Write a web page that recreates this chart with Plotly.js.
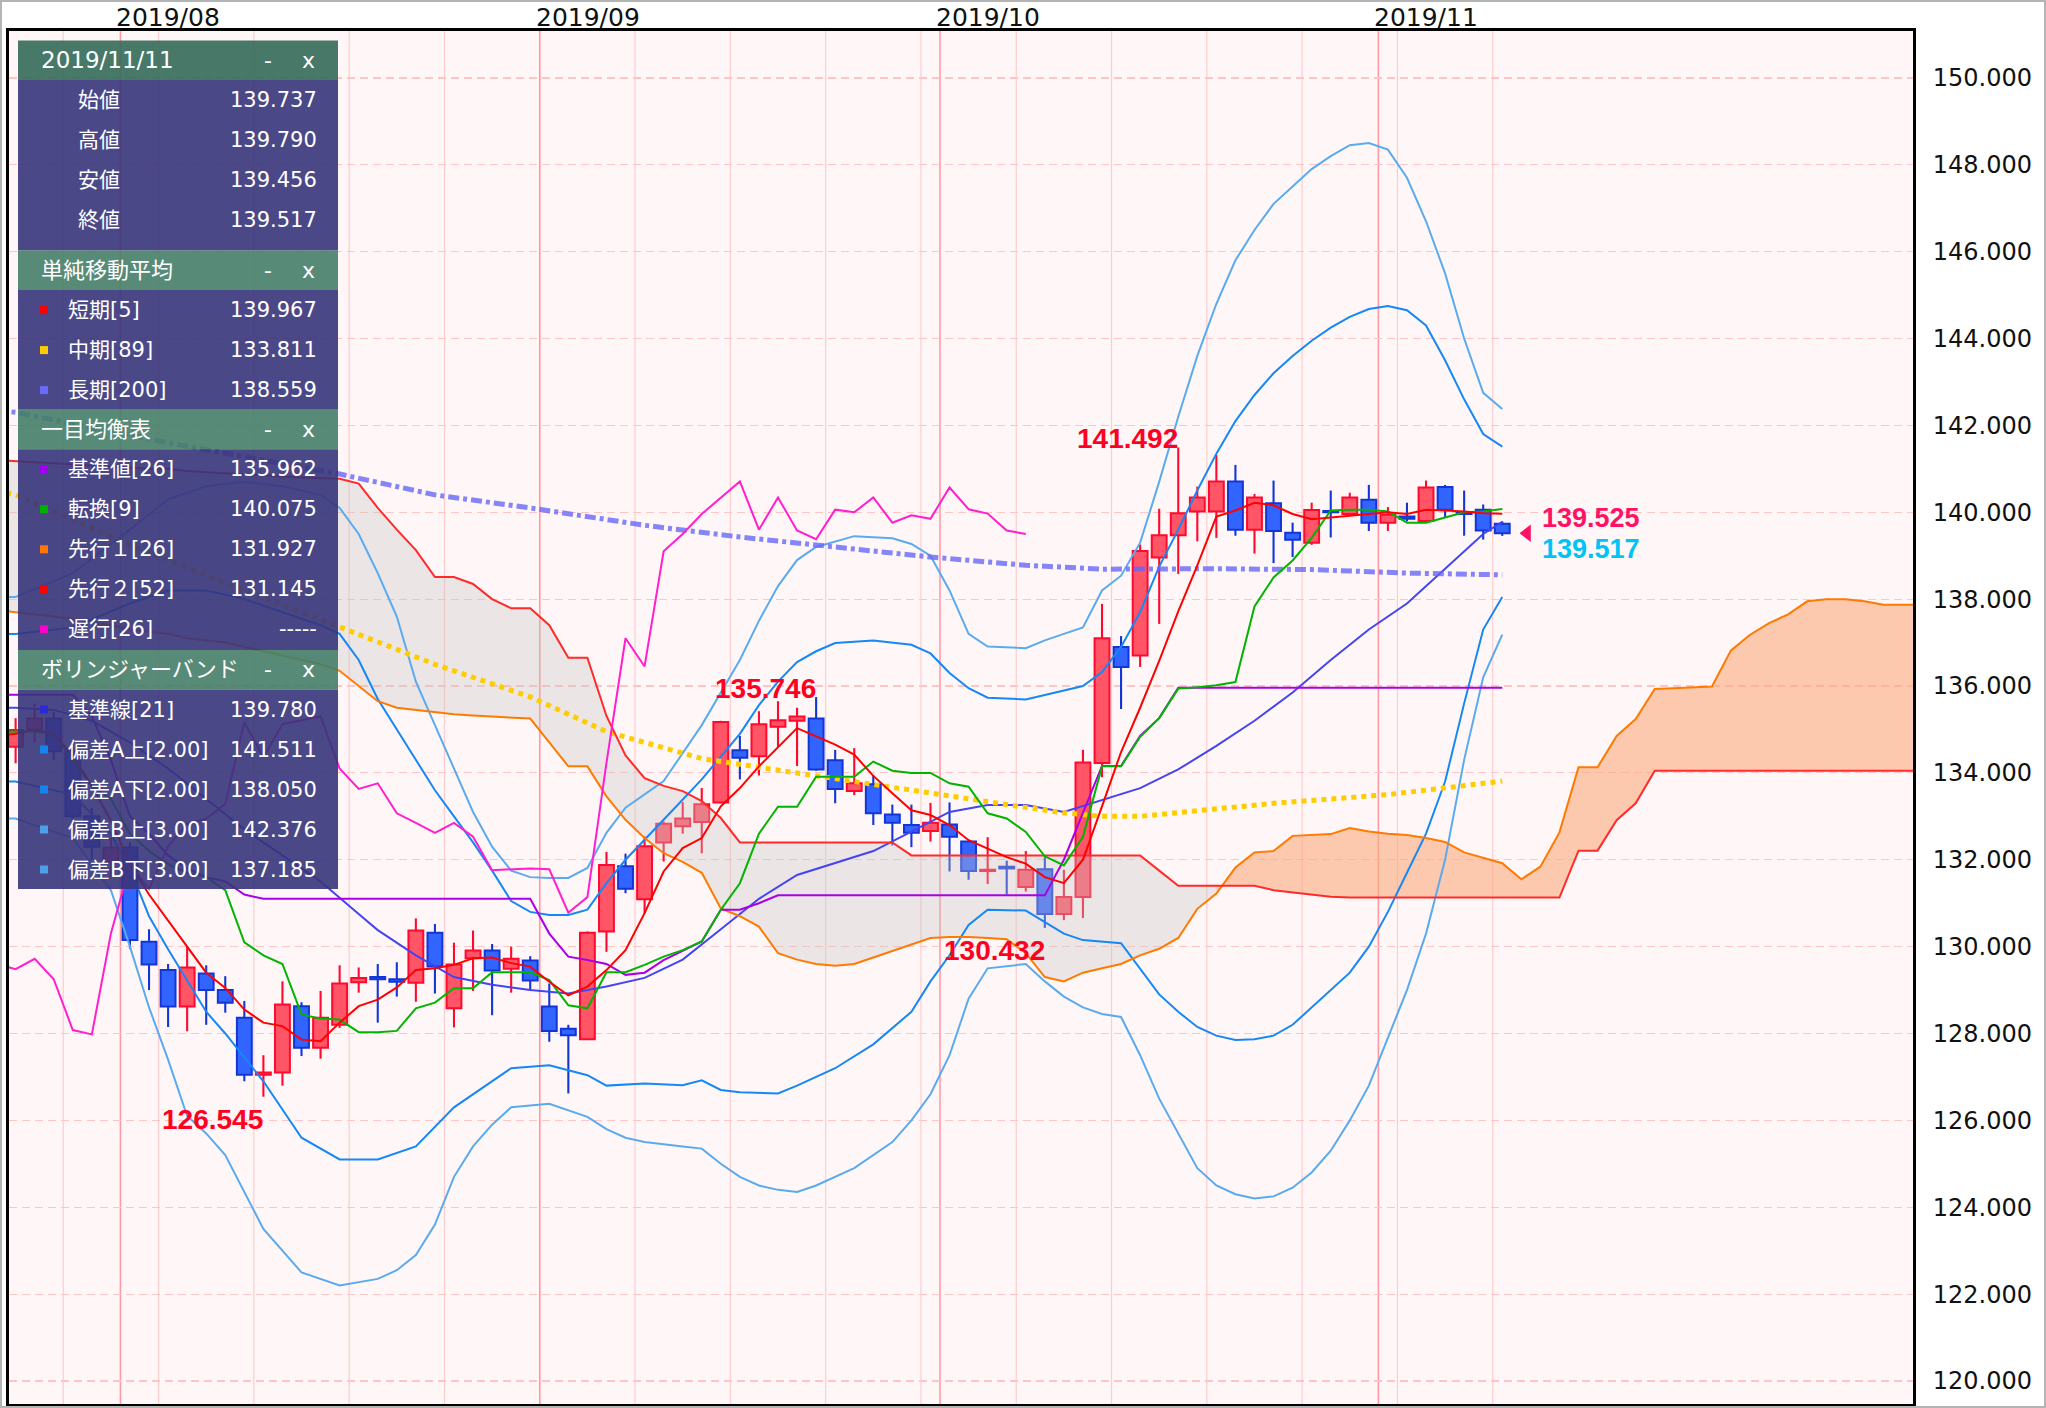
<!DOCTYPE html>
<html><head><meta charset="utf-8">
<script src="https://cdn.plot.ly/plotly-3.0.1.min.js"></script>
<style>html,body{margin:0;padding:0;background:#fff;}#chart{width:2046px;height:1408px;}</style>
</head><body><div id="chart"></div>
<script>
// ---------- DATA (x = trading-day index, 0 = 2019/07/22 Mon) ----------
const firstCandle = 2;
const openP  = [134.60,135.00,135.25,134.50,133.00,131.95,132.28,130.11,129.46,128.62,129.38,129.00,128.36,127.05,127.10,128.63,127.67,128.20,129.18,129.30,129.25,129.17,130.32,128.58,129.73,129.91,129.49,129.68,128.62,128.11,127.87,130.35,131.85,131.09,132.40,132.77,132.87,133.32,134.52,134.38,135.06,135.20,135.25,134.29,133.58,133.74,133.04,132.80,132.66,132.81,132.42,131.74,131.84,131.37,131.78,130.75,131.14,134.23,136.90,136.70,138.96,139.47,140.02,140.02,140.71,139.60,140.21,139.53,139.30,140.03,139.96,140.29,139.76,139.90,139.80,140.58,140.00,140.06,139.737];
const highP  = [135.26,135.60,135.40,134.60,133.20,132.50,132.40,130.40,129.60,130.00,129.57,129.32,128.75,127.50,129.20,128.72,128.98,129.57,129.52,129.60,129.64,130.65,130.52,130.09,130.37,130.06,130.00,129.78,129.15,128.20,130.35,132.18,132.14,132.54,132.88,133.33,133.65,135.20,134.85,135.42,135.65,135.50,135.746,134.53,134.57,133.95,133.27,133.27,133.31,133.32,132.45,132.52,131.98,132.20,132.06,131.77,134.53,137.89,137.15,139.26,140.08,141.492,140.59,141.32,141.09,140.42,140.73,139.76,140.22,140.50,140.45,140.63,140.12,140.22,140.73,140.63,140.50,140.18,139.790];
const lowP   = [134.22,134.70,134.30,132.80,132.00,131.60,129.95,129.00,128.15,128.05,128.20,128.48,126.90,126.545,126.80,127.48,127.42,128.13,128.94,128.25,128.85,128.73,128.92,128.14,128.98,128.42,128.94,129.00,127.81,126.62,127.85,129.88,131.23,130.77,131.96,132.60,132.15,133.30,133.85,133.94,134.60,134.16,134.05,133.30,133.49,132.80,132.33,132.29,132.42,131.73,131.54,131.44,131.20,131.27,130.432,130.61,130.66,133.90,135.47,136.44,137.43,138.58,139.33,139.41,139.46,139.05,138.83,138.97,139.25,139.42,139.92,139.57,139.57,139.79,139.76,139.88,139.46,139.37,139.456];
const closeP = [134.99,135.25,134.50,133.00,132.30,132.28,130.15,129.59,128.62,129.52,129.00,128.71,127.05,127.10,128.67,127.67,128.36,129.15,129.28,129.25,129.19,130.37,129.54,129.59,129.91,129.45,129.72,129.22,128.06,127.96,130.32,131.88,131.33,132.31,132.83,132.95,133.28,135.17,134.35,135.12,135.21,135.30,134.08,133.63,133.76,133.07,132.85,132.62,132.85,132.53,131.74,131.77,131.80,131.77,130.75,131.14,134.24,137.10,136.44,139.11,139.47,139.98,140.34,140.71,139.60,140.34,139.57,139.37,140.05,140.00,140.34,139.76,139.94,139.85,140.57,140.06,139.96,139.58,139.517];

// SMA(5) daily from index 1
const sma5Start = 1;
const sma5 = [134.85,134.9,135.0,134.9,134.4,133.7,132.9,131.9,131.2,130.6,130.0,129.4,129.05,128.55,128.25,128.17,127.86,127.82,128.25,128.63,128.78,129.06,129.46,129.5,129.58,129.73,129.75,129.62,129.54,129.19,128.88,129.08,129.46,129.92,130.77,131.73,132.27,132.5,133.23,133.65,134.15,134.6,135.03,134.84,134.65,134.42,133.93,133.53,133.14,133.03,132.8,132.45,132.25,132.06,131.91,131.6,131.46,132.0,133.23,134.48,135.5,136.58,137.72,138.78,139.9,140.04,140.22,140.16,139.96,139.84,139.88,139.92,139.96,140.0,139.96,140.06,140.04,140.02,139.98,139.967];
// SMA(89), SMA(200) sampled
const sma89Idx = [1,2,8,14,19,24,29,33,38,42,44,48,51,54,57,59,61,63,68,74,80];
const sma89Val = [140.5,140.4,139.25,138.2,137.36,136.5,135.75,134.95,134.33,134.06,133.93,133.68,133.45,133.27,133.08,133.0,133.0,133.08,133.3,133.5,133.81];
const sma200Idx = [1,2,10,19,24,29,35,40,45,50,55,59,65,70,75,80];
const sma200Val = [142.35,142.3,141.6,140.88,140.4,140.1,139.7,139.43,139.2,138.97,138.78,138.69,138.7,138.68,138.6,138.56];

// Ichimoku (daily from index 1)
const tenkan = [134.95,134.95,134.95,134.9,134.3,133.7,133.4,132.6,132.2,131.9,131.7,131.6,131.3,130.1,129.8,129.6,128.44,128.34,128.32,128.03,128.03,128.06,128.58,128.71,129.04,129.04,129.41,129.41,129.41,129.23,128.65,128.58,129.41,129.41,129.58,129.77,129.92,130.12,130.85,131.46,132.6,133.22,133.22,133.91,133.91,133.91,134.26,134.05,134.0,134.0,133.76,133.68,133.07,132.95,132.64,132.08,131.87,132.53,134.15,134.15,134.83,135.26,135.94,135.97,136.02,136.09,137.83,138.5,138.89,139.41,140.04,140.06,140.06,140.02,139.76,139.76,139.88,140.0,140.02,140.075];
const kijun = [135.8,135.8,135.8,135.8,135.8,135.3,134.3,133.0,132.6,132.1,131.8,131.6,131.5,131.2,131.1,131.1,131.1,131.1,131.1,131.1,131.1,131.1,131.1,131.1,131.1,131.1,131.1,131.1,131.1,130.3,129.77,129.69,129.6,129.35,129.4,129.69,129.9,130.12,130.85,130.85,131.0,131.18,131.18,131.18,131.18,131.18,131.18,131.18,131.18,131.18,131.18,131.18,131.18,131.18,131.18,131.18,132.0,133.1,134.16,134.16,134.85,135.26,135.962,135.962,135.962,135.962,135.962,135.962,135.962,135.962,135.962,135.962,135.962,135.962,135.962,135.962,135.962,135.962,135.962,135.962];
const spanA = [137.75,137.7,137.65,137.6,137.55,137.45,137.4,137.3,137.25,137.2,137.1,137.05,137.0,136.9,136.8,136.7,136.6,136.5,136.35,136.0,135.65,135.5,135.45,135.4,135.35,135.32,135.3,135.28,135.25,134.7,134.15,134.15,133.46,132.92,132.5,132.15,131.95,131.7,130.88,130.7,130.46,129.85,129.7,129.6,129.56,129.6,129.75,129.9,130.05,130.2,130.22,130.22,130.2,130.17,129.85,129.3,129.2,129.4,129.5,129.6,129.8,129.95,130.2,130.87,131.22,131.82,132.17,132.2,132.55,132.57,132.59,132.73,132.65,132.6,132.57,132.5,132.41,132.17,132.05,131.92,131.55,131.84,132.63,134.13,134.13,134.85,135.24,135.93,135.95,135.97,135.99,136.82,137.18,137.45,137.65,137.95,138.0,138.0,137.95,137.87,137.87,137.87];
const spanB = [141.2,141.17,141.15,141.13,141.1,141.08,141.05,141.03,141.0,141.0,140.95,140.92,140.9,140.87,140.85,140.82,140.8,140.78,140.77,140.66,140.1,139.6,139.13,138.51,138.51,138.35,138.0,137.79,137.79,137.4,136.65,136.65,135.31,134.4,133.88,133.7,133.58,133.35,132.96,132.4,132.4,132.4,132.4,132.4,132.4,132.4,132.4,132.4,132.1,132.1,132.1,132.1,132.1,132.1,132.1,132.1,132.1,132.1,132.1,132.1,132.1,131.75,131.4,131.4,131.4,131.4,131.4,131.3,131.25,131.2,131.15,131.13,131.13,131.13,131.13,131.13,131.13,131.13,131.13,131.13,131.13,131.13,131.13,132.21,132.21,132.91,133.3,134.05,134.05,134.05,134.05,134.05,134.05,134.05,134.05,134.05,134.05,134.05,134.05,134.05,134.05,134.05,134.05];
const chikou = [129.6,129.48,129.72,129.25,128.08,127.98,130.3,131.88,131.33,132.31,132.83,132.95,133.28,135.17,134.35,135.12,135.21,135.3,134.1,133.63,133.76,133.07,132.85,132.62,132.85,132.53,131.76,131.78,131.8,131.78,130.78,131.14,134.23,137.1,136.45,139.1,139.5,139.96,140.33,140.71,139.6,140.34,139.58,139.38,140.06,140.0,140.34,139.76,139.93,139.85,140.57,140.07,139.97,139.58,139.5];
const cloudSwitch = 65; // index where cloud turns from bearish to bullish

// Bollinger bands (sampled)
const bbMidIdx = [1,2,4,6,8,10,12,14,16,18,20,21,23,25,27,29,31,33,35,37,39,41,43,45,47,49,51,53,55,57,59,61,63,65,67,69,71,73,75,77,79,80];
const bbMidVal = [135.5,135.5,135.45,135.2,134.7,134.1,133.4,132.7,132.1,131.5,130.75,130.38,129.8,129.3,129.12,129.0,128.92,129.08,129.28,129.7,130.4,131.1,131.65,131.92,132.2,132.65,133.1,133.26,133.26,133.1,133.38,133.65,134.08,134.62,135.2,135.85,136.6,137.3,137.9,138.7,139.5,139.78];
const bbUp2Idx = [1,2,5,8,10,12,14,16,18,19,20,21,22,23,24,25,26,27,28,29,30,31,32,33,34,36,38,40,41,42,43,44,45,47,49,50,51,52,53,55,57,58,59,60,61,62,63,64,65,66,67,68,69,70,71,72,73,74,75,76,77,78,79,80];
const bbUp2Val = [137.2,137.2,137.35,137.9,138.2,138.2,138.0,137.7,137.4,137.2,136.6,135.7,135.0,134.3,133.6,133.0,132.4,131.75,131.05,130.8,130.73,130.73,130.85,131.46,132.0,132.92,133.85,134.9,135.56,136.1,136.55,136.8,136.99,137.05,136.95,136.75,136.3,135.95,135.73,135.69,135.9,136.0,136.32,136.9,137.7,138.75,139.6,140.5,141.35,142.1,142.7,143.2,143.6,143.95,144.25,144.5,144.68,144.75,144.65,144.3,143.5,142.6,141.8,141.51];
const bbUp3Idx = [1,2,5,8,10,12,14,16,18,19,20,21,22,23,24,25,26,27,28,29,30,31,32,33,34,36,38,40,41,42,43,44,46,48,49,50,51,52,53,55,56,57,58,59,60,61,62,63,64,65,66,67,68,69,70,71,72,73,74,75,76,77,78,79,80];
const bbUp3Val = [138.05,138.05,138.6,139.6,140.3,140.6,140.7,140.6,140.4,140.1,139.5,138.6,137.6,136.1,135.1,134.1,133.1,132.3,131.75,131.6,131.58,131.58,131.81,132.62,133.2,133.81,135.1,136.6,137.5,138.3,138.9,139.2,139.45,139.4,139.27,139.0,138.2,137.2,136.91,136.87,137.05,137.2,137.35,138.2,138.54,139.3,140.7,142.2,143.6,144.8,145.8,146.5,147.1,147.5,147.9,148.2,148.45,148.5,148.35,147.7,146.7,145.5,144.0,142.75,142.38];
const bbLo2Idx = [1,2,5,7,8,9,10,12,13,15,17,19,21,23,25,27,28,30,32,33,35,37,38,39,40,42,43,45,47,49,50,51,52,53,55,57,58,60,61,62,63,64,65,66,67,68,69,70,71,72,73,74,75,76,77,78,79,80];
const bbLo2Val = [133.8,133.8,133.5,132.6,131.8,130.7,129.94,128.5,128.0,126.9,125.6,125.1,125.1,125.4,126.3,126.9,127.2,127.27,127.04,126.8,126.85,126.81,126.92,126.7,126.65,126.62,126.8,127.2,127.75,128.5,129.2,129.8,130.5,130.85,130.83,130.3,130.15,130.08,129.5,128.9,128.5,128.15,127.95,127.85,127.87,127.95,128.2,128.6,129.0,129.4,130.0,130.8,131.7,132.6,133.8,135.6,137.3,138.05];
const bbLo3Idx = [1,2,5,7,8,9,10,11,12,13,15,17,19,21,22,23,24,25,26,27,28,30,32,33,34,35,37,38,39,40,41,42,43,44,46,48,49,50,51,52,53,55,56,57,58,59,60,61,62,63,64,65,66,67,68,69,70,71,72,73,74,75,76,77,78,79,80];
const bbLo3Val = [132.95,132.95,132.5,131.3,130.0,128.6,127.4,126.1,125.7,125.2,123.5,122.5,122.2,122.35,122.55,122.9,123.6,124.7,125.4,125.9,126.3,126.38,126.08,125.8,125.6,125.5,125.4,125.35,125.0,124.7,124.5,124.4,124.35,124.5,124.9,125.5,126.0,126.6,127.5,128.8,129.5,129.6,129.2,128.85,128.6,128.45,128.38,127.5,126.5,125.7,124.9,124.5,124.3,124.2,124.25,124.45,124.8,125.3,126.0,126.8,127.9,129.0,130.3,132.0,134.3,136.2,137.185];

// high / low marks
const markIdx = [15, 44, 56, 63];
const markVal = [126.545, 135.746, 130.432, 141.492];
const markIsHigh = [false, true, false, true];

// price tags
const priceTagText = ['139.525', '139.517'];
const priceTagColor = ['#ff1166', '#00c4f5'];

// axes text
const monthStart = [7.5, 29.5, 50.5, 73.5];
const monthLabel = ['2019/08', '2019/09', '2019/10', '2019/11'];
const weekStart = [4.5,9.5,14.5,19.5,24.5,29.5,34.5,39.5,44.5,49.5,54.5,59.5,64.5,69.5,74.5,79.5];
const yTicks = [120,122,124,126,128,130,132,134,136,138,140,142,144,146,148,150];

// info panel text
const panelTitles = ['2019/11/11', '単純移動平均', '一目均衡表', 'ボリンジャーバンド'];
const ohlcLabels = ['始値', '高値', '安値', '終値'];
const ohlcValues = ['139.737', '139.790', '139.456', '139.517'];
const smaLabels = ['短期[5]', '中期[89]', '長期[200]'];
const smaValues = ['139.967', '133.811', '138.559'];
const smaColors = ['#ff0000', '#ffcc00', '#6a6aff'];
const ichiLabels = ['基準値[26]', '転換[9]', '先行１[26]', '先行２[52]', '遅行[26]'];
const ichiValues = ['135.962', '140.075', '131.927', '131.145', '-----'];
const ichiColors = ['#a000f0', '#00b000', '#ff7700', '#ff0000', '#ff00cc'];
const bbLabels = ['基準線[21]', '偏差A上[2.00]', '偏差A下[2.00]', '偏差B上[3.00]', '偏差B下[3.00]'];
const bbValues = ['139.780', '141.511', '138.050', '142.376', '137.185'];
const bbColors = ['#2a2ad8', '#1584f0', '#1584f0', '#4aa0ea', '#4aa0ea'];

// ---------- BUILD ----------
const PL = 9, PR = 1913, PT = 31, PB = 1404, PW = PR - PL, PH = PB - PT;
const px = v => (v - PL) / PW, py = v => (PB - v) / PH;
const seq = (start, n) => Array.from({length: n}, (_, k) => start + k);

const cx = seq(firstCandle, openP.length);
const isUp = cx.map((_, k) => closeP[k] >= openP[k]);
function pick(arr, wantUp) { return arr.filter((_, k) => isUp[k] === wantUp); }
const UPC = '#ff0a2e', UPF = '#ff5567', DNC = '#1236d6', DNF = '#3264ff';

const traces = [];
[true, false].forEach(u => {
  traces.push({type: 'bar', x: pick(cx, u), base: pick(lowP, u),
    y: pick(highP.map((h, k) => h - lowP[k]), u), width: 0.11,
    marker: {color: u ? UPC : DNC, line: {width: 0}}, hoverinfo: 'skip'});
});
[true, false].forEach(u => {
  traces.push({type: 'bar', x: pick(cx, u),
    base: pick(openP.map((o, k) => Math.min(o, closeP[k])), u),
    y: pick(openP.map((o, k) => Math.max(Math.abs(closeP[k] - o), 0.02)), u), width: 0.78,
    marker: {color: u ? UPF : DNF, line: {width: 2, color: u ? UPC : DNC}}, hoverinfo: 'skip'});
});

// cloud fills
const nSpan = Math.min(spanA.length, spanB.length);
const sx = seq(1, nSpan);
const cut = sx.indexOf(cloudSwitch);
function fillPair(a, b, col) {
  traces.push({type: 'scatter', mode: 'lines', x: sx.slice(a, b), y: spanB.slice(a, b), line: {width: 0}, hoverinfo: 'skip'});
  traces.push({type: 'scatter', mode: 'lines', x: sx.slice(a, b), y: spanA.slice(a, b), line: {width: 0}, fill: 'tonexty', fillcolor: col, hoverinfo: 'skip'});
}
fillPair(0, cut + 1, 'rgba(200,196,196,0.36)');
fillPair(cut, nSpan, 'rgba(250,170,125,0.6)');

function line(x, y, color, width, dash) {
  traces.push({type: 'scatter', mode: 'lines', x, y, line: {color, width, dash: dash || 'solid'}, hoverinfo: 'skip'});
}
line(bbUp3Idx, bbUp3Val, '#5aaaf0', 2);
line(bbLo3Idx, bbLo3Val, '#5aaaf0', 2);
line(bbUp2Idx, bbUp2Val, '#1688f5', 2);
line(bbLo2Idx, bbLo2Val, '#1688f5', 2);
line(bbMidIdx, bbMidVal, '#4444f2', 2);
line(sma200Idx, sma200Val, 'rgba(100,100,250,0.78)', 5, '11px,4px,4px,4px');
line(sma89Idx, sma89Val, '#ffcc00', 5, 'dot');
line(sx, spanA.slice(0, nSpan), '#ff7a00', 2);
line(sx, spanB.slice(0, nSpan), '#ff2a2a', 2);
line(seq(1, kijun.length), kijun, '#a800e8', 2);
line(seq(1, tenkan.length), tenkan, '#00b400', 2);
line(seq(1, chikou.length), chikou, '#ff1ed0', 2);
line(seq(sma5Start, sma5.length), sma5, '#ff0000', 2);

const lastX = cx[cx.length - 1], lastC = closeP[closeP.length - 1];
traces.push({type: 'scatter', mode: 'markers', x: [lastX + 1.3], y: [lastC],
  marker: {symbol: 'triangle-left', size: 15, color: '#ff1166'}, hoverinfo: 'skip'});

// shapes
const shapes = [];
weekStart.forEach(w => shapes.push({type: 'line', xref: 'x', yref: 'paper', x0: w, x1: w, y0: 0, y1: 1, layer: 'below', line: {color: '#ffcccc', width: 1.2}}));
monthStart.forEach(m => shapes.push({type: 'line', xref: 'x', yref: 'paper', x0: m, x1: m, y0: 0, y1: 1, layer: 'below', line: {color: '#ff9aa2', width: 1.6}}));
shapes.push({type: 'rect', xref: 'paper', yref: 'paper', x0: px(0), x1: px(2046), y0: py(1408), y1: py(0), line: {color: '#b4b4b4', width: 4}, layer: 'above'});

const annotations = [];
monthStart.forEach((m, k) => annotations.push({xref: 'x', yref: 'paper', x: m, y: 1, xanchor: 'left', yanchor: 'middle', xshift: -6, yshift: 14, showarrow: false, text: monthLabel[k], font: {family: 'DejaVu Sans', size: 25, color: '#111'}}));
markIdx.forEach((mi, k) => annotations.push({xref: 'x', yref: 'y', x: mi, y: markVal[k], xanchor: 'right', yanchor: 'middle', xshift: 2, yshift: markIsHigh[k] ? 9 : -23, showarrow: false, text: '<b>' + markVal[k].toFixed(3) + '</b>', font: {family: 'Liberation Sans', size: 28, color: '#ff0022'}}));
priceTagText.forEach((t, k) => annotations.push({xref: 'x', yref: 'y', x: lastX + 2.03, y: lastC, xanchor: 'left', yanchor: 'middle', borderpad: 0, yshift: k === 0 ? 15.5 : -15.5, showarrow: false, text: '<b>' + t + '</b>', font: {family: 'Liberation Sans', size: 27, color: priceTagColor[k]}}));

// info panel
const headTops = [40.5, 250.6, 409.8, 650], blockBottoms = [250.6, 409.8, 650, 889];
const HEAD_H = 39.5, ROW_H = 40, ROW0 = 20, PX0 = 18, PX1 = 338;
const headCols = ['rgba(58,110,93,0.93)', 'rgba(70,126,104,0.9)', 'rgba(70,126,104,0.9)', 'rgba(70,126,104,0.9)'];
const blockCol = 'rgba(55,52,123,0.9)';
const sections = [[ohlcLabels, ohlcValues, null], [smaLabels, smaValues, smaColors], [ichiLabels, ichiValues, ichiColors], [bbLabels, bbValues, bbColors]];
const pf = 'DejaVu Sans, Noto Sans CJK JP, sans-serif';
sections.forEach((sec, s) => {
  const top = headTops[s];
  shapes.push({type: 'rect', xref: 'paper', yref: 'paper', x0: px(PX0), x1: px(PX1), y0: py(top + HEAD_H), y1: py(top), fillcolor: headCols[s], line: {width: 0}, layer: 'above'});
  shapes.push({type: 'rect', xref: 'paper', yref: 'paper', x0: px(PX0), x1: px(PX1), y0: py(blockBottoms[s]), y1: py(top + HEAD_H), fillcolor: blockCol, line: {width: 0}, layer: 'above'});
  const hc = top + HEAD_H / 2;
  annotations.push({xref: 'paper', yref: 'paper', x: px(39), y: py(hc), xanchor: 'left', yanchor: 'middle', showarrow: false, text: panelTitles[s], font: {family: pf, size: s === 0 ? 23 : 22, color: '#fff'}});
  annotations.push({xref: 'paper', yref: 'paper', x: px(268), y: py(hc), xanchor: 'center', yanchor: 'middle', showarrow: false, text: '-', font: {family: pf, size: 22, color: '#fff'}});
  annotations.push({xref: 'paper', yref: 'paper', x: px(308), y: py(hc), xanchor: 'center', yanchor: 'middle', showarrow: false, text: 'x', font: {family: pf, size: 22, color: '#fff'}});
  const [labs, vals, cols] = sec;
  labs.forEach((lab, r) => {
    const yc = top + HEAD_H + ROW0 + r * ROW_H;
    if (cols) shapes.push({type: 'rect', xref: 'paper', yref: 'paper', x0: px(40), x1: px(48), y0: py(yc + 4), y1: py(yc - 4), fillcolor: cols[r], line: {width: 0}, layer: 'above'});
    annotations.push({xref: 'paper', yref: 'paper', x: px(cols ? 66 : 76), y: py(yc), xanchor: 'left', yanchor: 'middle', showarrow: false, text: lab, font: {family: pf, size: 21, color: '#fff'}});
    annotations.push({xref: 'paper', yref: 'paper', x: px(319), y: py(yc), xanchor: 'right', yanchor: 'middle', showarrow: false, text: vals[r], font: {family: pf, size: 21, color: '#fff'}});
  });
});

const layout = {
  width: 2046, height: 1408,
  margin: {l: PL, r: 2046 - PR, t: PT, b: 1408 - PB, pad: 0},
  paper_bgcolor: '#ffffff', plot_bgcolor: '#fff7f7',
  showlegend: false, barmode: 'overlay', hovermode: false,
  font: {family: 'DejaVu Sans', color: '#111'},
  xaxis: {range: [1.653, 101.55], showgrid: false, zeroline: false, showticklabels: false, ticks: '',
    showline: true, mirror: true, linecolor: '#000', linewidth: 3},
  yaxis: {side: 'right', range: [119.47, 151.08], tickvals: yTicks, tickformat: '.3f', ticks: '',
    ticklabelstandoff: 12, tickfont: {family: 'DejaVu Sans', size: 24, color: '#111'},
    showgrid: true, gridcolor: '#ffc4c4', gridwidth: 1.2, griddash: '8px,5px', zeroline: false,
    showline: true, mirror: true, linecolor: '#000', linewidth: 3},
  shapes, annotations
};
Plotly.newPlot('chart', traces, layout, {staticPlot: true});
</script></body></html>
